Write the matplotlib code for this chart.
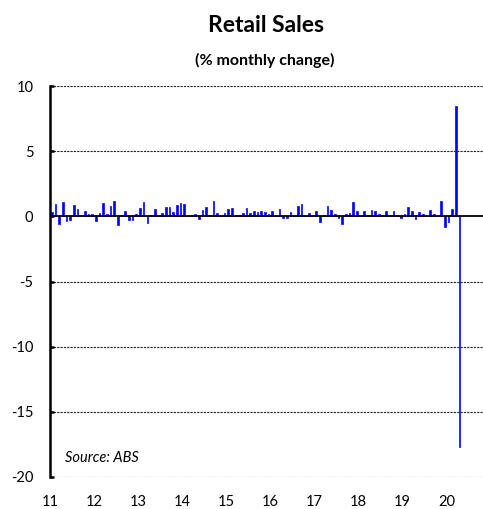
import numpy as np
import matplotlib
matplotlib.use("Agg")
import matplotlib.pyplot as plt

# ---- data ----
start_year = 2011
monthly_change = [
    0.30, 0.97, -0.59, 1.08, -0.33, -0.28, 0.90, 0.56, 0.03, 0.38, 0.18, 0.15,   # 2011
    -0.33, 0.26, 1.03, 0.18, 0.82, 1.20, -0.64, 0.08, 0.38, -0.28, -0.28, 0.18,  # 2012
    0.64, 1.08, -0.54, 0.08, 0.56, 0.03, 0.23, 0.74, 0.69, 0.30, 0.90, 1.05,     # 2013
    0.97, 0.03, 0.10, 0.20, -0.20, 0.50, 0.74, 0.13, 1.15, 0.23, 0.08, 0.23,     # 2014
    0.59, 0.64, 0.08, 0.10, 0.26, 0.64, 0.23, 0.44, 0.33, 0.44, 0.30, 0.18,      # 2015
    0.44, 0.03, 0.54, -0.13, -0.13, 0.36, 0.03, 0.77, 0.97, 0.03, 0.23, 0.03,    # 2016
    0.44, -0.44, 0.08, 0.77, 0.46, 0.20, -0.10, -0.56, 0.20, 0.28, 1.08, 0.40,   # 2017
    0.03, 0.38, 0.10, 0.49, 0.38, 0.20, 0.13, 0.38, 0.08, 0.38, 0.13, -0.13,     # 2018
    0.20, 0.72, 0.38, -0.20, 0.30, 0.15, 0.03, 0.46, 0.20, 0.03, 1.20, -0.80,    # 2019
    -0.44, 0.59, 8.50, -17.70,                                                   # 2020
]
year_labels = ["11", "12", "13", "14", "15", "16", "17", "18", "19", "20"]
y_ticks = [10, 5, 0, -5, -10, -15, -20]

title = "Retail Sales"
subtitle = "(% monthly change)"
source = "Source: ABS"

# ---- figure ----
W, H = 483, 509
fig = plt.figure(figsize=(W / 100, H / 100), dpi=100)
plt.rcParams['font.family'] = ['Lato', 'DejaVu Sans']

ax_left, ax_right = 50 / W, 1.0
ax_bottom, ax_top = 1 - 477 / H, 1 - 86 / H
ax = fig.add_axes([ax_left, ax_bottom, ax_right - ax_left, ax_top - ax_bottom])

n = len(monthly_change)
x = start_year + (np.arange(n) + 0.5) / 12.0
ax.bar(x, monthly_change, width=0.45 / 12, color='#0000ff', edgecolor='#1a1aff',
       linewidth=0.6, zorder=3)

ax.set_ylim(-20, 10)
ax.set_xlim(start_year, start_year + 433 / 44.08)

# gridlines (dashed)
for yv in y_ticks:
    if yv != 0:
        ax.axhline(yv, color='#222222', lw=0.8, ls=(0, (2, 1)), zorder=1)
ax.axhline(0, color='black', lw=1.3, zorder=4)

for s in ['top', 'right', 'bottom']:
    ax.spines[s].set_visible(False)
ax.spines['left'].set_linewidth(1.8)
ax.spines['left'].set_color('black')
ax.spines['left'].set_zorder(5)

ax.set_yticks(y_ticks)
ax.set_yticklabels([str(v) for v in y_ticks])
ax.tick_params(axis='y', direction='in', length=3, width=1.8, labelsize=10.5, pad=12)

ax.set_xticks([start_year + i for i in range(len(year_labels))])
ax.set_xticklabels(year_labels)
ax.tick_params(axis='x', length=0, labelsize=10.5, pad=13)

ax.text(0.035, 0.049, source, transform=ax.transAxes, fontsize=10.5, style='italic',
        ha='left', va='center')

fig.text(266 / W, 1 - 25 / H, title, ha='center', va='center', fontsize=16.5, fontweight='bold')
fig.text(265 / W, 1 - 60 / H, subtitle, ha='center', va='center', fontsize=11.5, fontweight='bold')

fig.savefig("out.png", dpi=100)
